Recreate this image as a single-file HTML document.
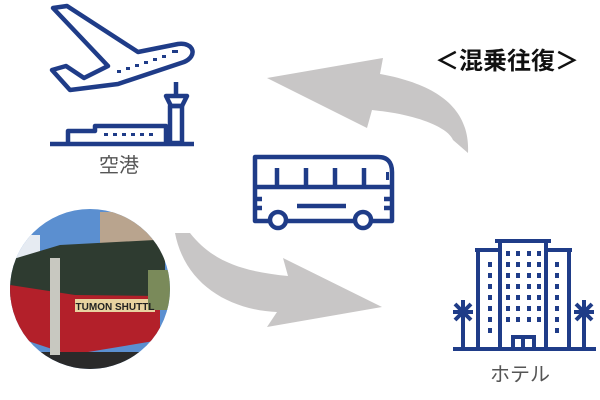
<!DOCTYPE html>
<html><head><meta charset="utf-8"><style>
html,body{margin:0;padding:0;background:#fff;width:600px;height:400px;overflow:hidden}
svg{display:block}
</style></head><body>
<svg width="600" height="400" viewBox="0 0 600 400" xmlns="http://www.w3.org/2000/svg">
<defs>
<clipPath id="c"><circle cx="90" cy="289" r="80"/></clipPath>
</defs>
<!-- arrows -->
<path d="M468,153 C470,110 440,85 380,74 L383,58 L267,78 L367,128 L372,110 C420,115 448,128 453,140 Z" fill="#c8c6c6"/>
<path d="M175,233 L190,233 C215,265 250,272 288,276 L283,258 L382,307 L267,327 L277,312 C230,310 185,285 175,233 Z" fill="#c8c6c6"/>
<!-- airplane -->
<g fill="none" stroke="#1f3c88" stroke-width="4.5" stroke-linejoin="round">
<path d="M53,8 L67,6 L138,52 L178,44 C194,42 198,56 184,62 L118,84 L70,90 L52,70 L66,66 L84,78 L108,66 Z"/>
<path d="M68,143 L68,131 L95,131 L95,126 L166,126 L166,143"/>
<rect x="170" y="106" width="12" height="37"/>
<path d="M166,96 L187,96 L182,106 L171,106 Z"/>
<path d="M176,82 L176,96"/>
<line x1="50" y1="144" x2="194" y2="144"/>
</g>
<g fill="#1f3c88">
<rect x="117" y="70" width="4" height="3"/><rect x="126" y="67" width="4" height="3"/><rect x="135" y="64" width="4" height="3"/><rect x="144" y="61" width="4" height="3"/><rect x="153" y="58" width="4" height="3"/><rect x="162" y="55" width="4" height="3"/><rect x="172" y="50" width="6" height="3"/>
<rect x="104" y="133" width="4" height="3"/><rect x="113" y="133" width="4" height="3"/><rect x="122" y="133" width="4" height="3"/><rect x="131" y="133" width="4" height="3"/><rect x="140" y="133" width="4" height="3"/><rect x="149" y="133" width="4" height="3"/>
</g>
<text x="119" y="172" font-family="Liberation Sans, Noto Sans CJK JP, sans-serif" font-size="20" fill="#555" text-anchor="middle">空港</text>
<!-- bus -->
<g fill="none" stroke="#1f3c88" stroke-width="4.5" stroke-linejoin="round">
<path d="M270,221 L255,221 L255,157 L378,157 Q392,157 392,172 L392,221 L371,221 M355,221 L287,221"/>
<line x1="255" y1="187" x2="392" y2="187"/>
<line x1="277" y1="168" x2="277" y2="186"/><line x1="306" y1="168" x2="306" y2="186"/><line x1="335" y1="168" x2="335" y2="186"/><line x1="364" y1="168" x2="364" y2="186"/>
<line x1="297" y1="206" x2="346" y2="206"/>
<circle cx="278" cy="220" r="8"/><circle cx="363" cy="220" r="8"/>
<line x1="384" y1="199" x2="392" y2="199"/><line x1="384" y1="208" x2="392" y2="208"/>
<line x1="255" y1="199" x2="262" y2="199"/><line x1="255" y1="208" x2="262" y2="208"/>
</g>
<rect x="386" y="172" width="3" height="8" fill="#1f3c88"/>
<!-- title -->
<text x="507" y="69" font-family="Noto Sans CJK JP, sans-serif" font-size="24" font-weight="bold" fill="#111" text-anchor="middle">＜混乗往復＞</text>
<!-- photo -->
<g clip-path="url(#c)">
<rect x="0" y="200" width="200" height="180" fill="#5b8fd0"/>
<rect x="10" y="235" width="30" height="30" fill="#e6ebf2"/>
<rect x="100" y="212" width="65" height="70" fill="#b9a48e"/>
<path d="M10,260 L60,245 L155,240 L165,255 L165,300 L10,300 Z" fill="#2e3b30"/>
<path d="M10,285 L75,295 L160,296 L160,340 L70,355 L10,335 Z" fill="#b3202a"/>
<rect x="75" y="299" width="80" height="13" fill="#e8d3a0"/>
<rect x="10" y="352" width="170" height="30" fill="#2a2a2a"/>
<rect x="50" y="258" width="10" height="97" fill="#c8c8c0"/>
<rect x="148" y="270" width="22" height="40" fill="#7a8a5a"/>
</g>
<text x="115" y="310" font-family="Liberation Sans, sans-serif" font-size="10" font-weight="bold" fill="#222" text-anchor="middle">TUMON SHUTTL</text>
<!-- hotel -->
<g fill="none" stroke="#1f3c88" stroke-width="4">
<line x1="453" y1="349" x2="596" y2="349"/>
<path d="M495,241 L551,241 M500,349 L500,241 M546,349 L546,241"/>
<path d="M475,250 L500,250 M478,349 L478,250 M546,250 L572,250 M569,349 L569,250"/>
<path d="M513,349 L513,337 L534,337 L534,349 M523,337 L523,349"/>
<path d="M463,349 L463,302 M584,349 L584,302"/>
<path d="M455,304 L471,320 M471,304 L455,320 M463,300 L463,322 M453,312 L473,312"/>
<path d="M576,304 L592,320 M592,304 L576,320 M584,300 L584,322 M574,312 L594,312"/>
</g>
<g fill="#1f3c88">
<g id="r"><rect x="506" y="251" width="4" height="5"/><rect x="516" y="251" width="4" height="5"/><rect x="527" y="251" width="4" height="5"/><rect x="537" y="251" width="4" height="5"/><rect x="488" y="262" width="4" height="5"/><rect x="555" y="262" width="4" height="5"/></g>
<use href="#r" y="11"/><use href="#r" y="22"/><use href="#r" y="33"/><use href="#r" y="44"/><use href="#r" y="55"/><use href="#r" y="66"/>
</g>
<text x="520" y="381" font-family="Liberation Sans, Noto Sans CJK JP, sans-serif" font-size="20" fill="#555" text-anchor="middle">ホテル</text>
</svg>
</body></html>
